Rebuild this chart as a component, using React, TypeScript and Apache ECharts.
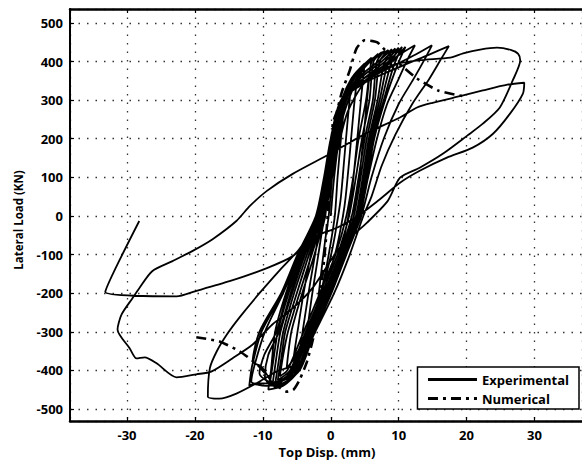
import React, { useEffect, useRef } from 'react';
import * as echarts from 'echarts';

// Experimental hysteresis (Top Disp. mm, Lateral Load kN) in load order
const cyclesSmall: number[][] = [
  [0, 0], [0.5, 100], [1.2, 200], [2, 290],
  [1.5, 200], [1, 100], [0.6, 0], [-0.3, -100], [-1.2, -180], [-2, -240],
  [-1.5, -160], [-0.8, -60], [-0.3, 0], [0.3, 120], [1, 220], [2, 300], [3, 340],
  [2.5, 250], [2, 150], [1.5, 50], [1.1, 0], [0.3, -80], [-0.8, -160], [-2.2, -240], [-3.5, -300],
  [-2.8, -210], [-2, -120], [-1.2, -30], [-0.8, 0], [-0.1, 120], [0.6, 230], [1.8, 310], [3, 355], [4, 375],
  [3.4, 280], [2.8, 160], [2.2, 50], [1.8, 0], [0.9, -80], [-0.6, -170], [-2.3, -250], [-3.5, -300], [-4.5, -340],
  [-3.8, -260], [-3, -170], [-1.9, -60], [-1.2, 0], [-0.4, 110], [0.4, 220], [1.6, 300], [3.2, 360], [5, 395],
  [4.5, 310], [3.8, 180], [3.1, 60], [2.6, 0], [1.6, -80], [0, -170], [-2, -260], [-3.8, -320], [-5.5, -370],
  [-4.9, -300], [-4, -200], [-2.8, -90], [-1.5, 0], [-0.6, 100], [0.3, 210], [1.4, 290], [3, 350], [4.8, 390], [6, 410],
  [5.5, 330], [4.8, 200], [4, 70], [3.4, 0], [2.3, -80], [0.6, -170], [-1.5, -260], [-3.8, -330], [-6.5, -395],
];

const cyclesMid: number[][] = [
  [-5.8, -300], [-4.2, -200], [-2.4, -100], [-0.9, 0], [0.2, 100], [1, 200], [2.6, 300], [4.8, 380], [7, 420],
  [6, 400], [5.2, 300], [4.1, 200], [3.3, 100], [2.3, 0], [0.7, -100], [-1.6, -200], [-4, -300], [-6.4, -400], [-7.5, -415],
  [-7, -360], [-6.3, -300], [-4.6, -200], [-2.8, -100], [-1.1, 0], [0, 100], [0.8, 200], [2.3, 300], [4.6, 380], [7.5, 424],
  [6.3, 400], [5.7, 300], [4.6, 200], [3.7, 100], [2.7, 0], [1, -100], [-1.3, -200], [-3.7, -300], [-6, -400], [-7.8, -425],
  [-7.3, -370], [-6.7, -300], [-5, -200], [-3.2, -100], [-1.3, 0], [-0.2, 100], [0.6, 200], [2.1, 300], [4.5, 385], [8, 428],
  [6.8, 400], [6.2, 300], [5, 200], [4.1, 100], [3.1, 0], [1.3, -100], [-1, -200], [-3.5, -300], [-5.8, -400], [-8.3, -447],
  [-7.7, -380], [-7, -300], [-5.4, -200], [-3.5, -100], [-1.5, 0], [-0.4, 100], [0.5, 200], [1.9, 300], [4.4, 380], [8.5, 430],
  [7.2, 400], [6.5, 300], [5.3, 200], [4.4, 100], [3.4, 0], [1.5, -100], [-0.8, -200], [-3.3, -300], [-5.6, -400], [-8.6, -440],
  [-8.2, -390], [-7.4, -300], [-5.7, -200], [-3.8, -100], [-1.6, 0], [-0.5, 100], [0.4, 200], [1.8, 300], [4.5, 365], [7, 400], [9, 432],
  [7.8, 390], [6.9, 300], [5.6, 200], [4.7, 100], [3.7, 0], [1.7, -100], [-0.6, -200], [-3.1, -300], [-5.3, -400], [-7.5, -440], [-9, -437], [-9.7, -416],
  [-9.2, -360], [-7.6, -300], [-5.9, -200], [-4, -100], [-1.7, 0], [-0.6, 100], [0.3, 200], [1.7, 300], [4.6, 360], [7.5, 400], [9.5, 434],
  [8.3, 390], [7.2, 300], [5.8, 200], [4.9, 100], [3.9, 0], [1.9, -100], [-0.4, -200], [-2.9, -300], [-5.1, -400], [-9, -437],
  [-8.5, -380], [-7.8, -300], [-6.2, -200], [-4.2, -100], [-1.8, 0], [-0.7, 100], [0.2, 200], [1.6, 300], [4.8, 355], [8, 400], [10, 436],
  [8.8, 390], [7.5, 300], [6, 200], [5.1, 100], [4.1, 0], [2, -100], [-0.2, -200], [-2.7, -300], [-4.9, -400], [-7.5, -440], [-10.5, -408],
  [-9.8, -360], [-8, -300], [-6.4, -200], [-4.4, -100], [-1.9, 0], [-0.8, 100], [0.1, 200], [1.5, 300], [5, 350], [8.5, 400], [10.5, 438],
  [9.3, 390], [7.8, 300], [6.2, 200], [5.3, 100], [4.2, 0], [2.1, -100], [-0.1, -200], [-2.6, -300], [-4.7, -400], [-7, -440], [-9.2, -450],
  [-8.8, -400], [-8.2, -300], [-6.6, -200], [-4.5, -100], [-2, 0], [-0.8, 100], [0, 200], [1.5, 300], [5, 345], [9, 400], [11, 438],
  [9.8, 390], [8, 300], [6.4, 200], [5.4, 100], [4.3, 0], [2.2, -100], [0, -200], [-2.5, -300], [-4.6, -400], [-7.5, -430], [-9.5, -440], [-11.7, -429], [-11.2, -385],
  [-9.7, -300], [-7, -200], [-4.6, -100], [-2, 0], [-0.8, 100], [0, 200], [1.5, 300], [4, 345], [7.5, 385], [10.5, 422], [12.4, 442],
  [11.3, 405], [10, 355], [8.3, 290], [6.8, 200], [5.5, 100], [4.3, 0], [2.2, -100], [0, -200], [-2.6, -300], [-4.8, -400], [-7.5, -435], [-10.9, -433], [-12, -440],
  [-11.6, -390], [-10.2, -300], [-7.1, -200], [-4.8, -100], [-2.1, 0], [-0.9, 100], [0, 200], [1.6, 300], [4.5, 345], [8.5, 382], [12.5, 418], [14.9, 442],
  [13.8, 405], [12.2, 355], [10, 290], [7.8, 200], [6, 100], [4.5, 0], [2.3, -100], [0.1, -200], [-2.4, -300], [-4.6, -400], [-8, -440], [-10.2, -390], [-11.5, -377],
  [-10.5, -300], [-7.3, -200], [-4.9, -100], [-2.2, 0], [-1, 100], [0, 200], [1.7, 300], [5, 345], [10, 385], [14.5, 418], [17.4, 440],
];

const cycle18: number[][] = [
  [16.2, 405], [14.5, 355], [12, 290], [9.5, 210], [7.5, 130], [6, 50], [4.8, 0], [2.8, -100], [0.5, -200], [-2.3, -300],
  [-4.6, -380], [-8, -403], [-10.5, -429], [-13.9, -460], [-16.4, -473], [-18.1, -468],
  [-17.8, -394], [-16.8, -351], [-15.3, -307], [-13.4, -262], [-10.5, -200], [-7.5, -140], [-4.6, -85], [-2, -15],
  [-0.3, 60], [1, 170], [2.5, 270], [5, 345], [9, 390], [13, 403], [17.6, 410], [19.5, 421], [22, 431], [24.5, 436],
  [26.5, 430], [27.6, 420], [27.9, 403],
];

const cycle27: number[][] = [
  [26.8, 351], [24.9, 281], [22.4, 239], [20.1, 208], [16.5, 161], [13.1, 125], [10.2, 99], [8.4, 39], [5.3, -18],
  [1.3, -83], [-2.7, -187], [-5.6, -239], [-8.6, -281], [-11.5, -333], [-14.5, -369], [-17.6, -403], [-19.8, -410],
  [-22.7, -418], [-25.7, -381], [-27.4, -366], [-28.6, -369], [-29.6, -343], [-31.4, -294],
  [-30.8, -255], [-29.2, -213], [-28.2, -187], [-26.3, -143], [-23.3, -117], [-20.4, -91], [-17.4, -60], [-13.9, -13],
  [-11.9, 26], [-9.4, 65], [-5.6, 109], [-0.1, 161], [5, 212], [10.2, 255], [12.7, 281], [15, 293], [19.5, 312],
  [22.4, 325], [26, 340], [28.5, 345],
];

const finalBranch: number[][] = [
  [28.3, 317], [26.4, 265], [23.9, 213], [20.9, 177], [17.1, 151], [13.1, 117], [10.2, 86], [7, 40], [4, 0], [1, -30],
  [-2.1, -52], [-5.6, -104], [-9.4, -135], [-14.9, -169], [-20, -195], [-22.7, -208], [-33.2, -197], [-28.2, -13],
];

// Numerical (dash-dot) curve
const numerical: number[][] = [
  [-19.8, -314], [-16.4, -325], [-13.4, -351], [-10.8, -385], [-9, -420], [-7.5, -445], [-6.5, -455], [-5.5, -450],
  [-4.6, -425], [-3.5, -377], [-2.5, -310], [-1.5, -200], [-0.8, -80], [-0.3, 40], [0.1, 150], [0.3, 240], [0.9, 270],
  [1.6, 319], [2.8, 377], [3.8, 434], [5, 455], [6.8, 450], [8.3, 424], [10.5, 388], [12.7, 356], [15.8, 325], [19, 312], [19.8, 310],
];

const seriesNames = ['Experimental', 'Numerical'];
const xName = 'Top Disp. (mm)';
const yName = 'Lateral Load (KN)';
const xRange = [-38.4, 37];
const yRange = [-531, 536];

export default function App() {
  const ref = useRef<HTMLDivElement>(null);
  useEffect(() => {
    const chart = echarts.init(ref.current!, null, { renderer: 'svg' });
    const experimental = [...cyclesSmall, ...cyclesMid, ...cycle18, ...cycle27, ...finalBranch];
    const axisText = { fontWeight: 'bold', fontSize: 13, color: '#000', fontFamily: 'Open Sans', lineHeight: 14 };
    const split = { show: true, lineStyle: { type: [1.5, 7], color: '#333', width: 1.3 } };
    chart.setOption({
      animation: false,
      backgroundColor: '#fff',
      textStyle: { fontFamily: 'Open Sans' },
      grid: { left: 70, right: 0, top: 9, bottom: 45 },
      graphic: [
        {
          type: 'text', x: 327, y: 452, z: 10,
          style: { text: xName, fontWeight: 'bold', fontSize: 13, fontFamily: 'Open Sans', fill: '#000', align: 'center', verticalAlign: 'middle', lineHeight: 14 },
        },
        {
          type: 'text', x: 18, y: 220, rotation: Math.PI / 2, z: 10,
          style: { text: yName, fontWeight: 'bold', fontSize: 11.5, fontFamily: 'Open Sans', fill: '#000', align: 'center', verticalAlign: 'middle' },
        },
      ],
      legend: {
        data: [
          { name: seriesNames[0], lineStyle: { width: 3 }, itemStyle: { opacity: 0 } },
          { name: seriesNames[1], lineStyle: { width: 3 }, itemStyle: { opacity: 0 } },
        ],
        orient: 'vertical',
        right: 3,
        top: 367,
        itemWidth: 49,
        itemHeight: 12,
        itemGap: 6,
        padding: [6, 10, 4, 9],
        borderColor: '#000',
        borderWidth: 1.5,
        backgroundColor: '#fff',
        textStyle: { fontWeight: 'bold', fontSize: 13, color: '#000', fontFamily: 'Open Sans' },
      },
      xAxis: [
        {
          type: 'value', min: xRange[0], max: xRange[1], splitNumber: 7,
          axisLine: { onZero: false, lineStyle: { color: '#000', width: 2.5 } },
          axisTick: { inside: true, length: 4, lineStyle: { color: '#000', width: 1.2 } },
          axisLabel: { ...axisText, margin: 7, showMinLabel: false, showMaxLabel: false },
          splitLine: split,
        },
        {
          type: 'value', position: 'top', min: xRange[0], max: xRange[1], splitNumber: 7,
          axisLine: { onZero: false, lineStyle: { color: '#000', width: 2.5 } },
          axisTick: { inside: true, length: 4, lineStyle: { color: '#000', width: 1.2 } },
          axisLabel: { show: false },
          splitLine: { show: false },
        },
      ],
      yAxis: {
        type: 'value', min: yRange[0], max: yRange[1], splitNumber: 10,
        axisLine: { show: true, onZero: false, lineStyle: { color: '#000', width: 2 } },
        axisTick: { show: true, inside: true, length: 4, lineStyle: { color: '#000', width: 1.2 } },
        axisLabel: { ...axisText, margin: 7, showMinLabel: false, showMaxLabel: false },
        splitLine: split,
      },
      series: [
        {
          name: seriesNames[0], type: 'line', data: experimental, showSymbol: false, symbol: 'none',
          smooth: 0.25, lineStyle: { color: '#000', width: 1.8 }, itemStyle: { color: '#000' },
        },
        {
          name: seriesNames[1], type: 'line', data: numerical, showSymbol: false, symbol: 'none',
          smooth: 0.2, lineStyle: { color: '#000', width: 2.6, type: [10, 5, 3, 5] }, itemStyle: { color: '#000' },
        },
      ],
    });
    return () => chart.dispose();
  }, []);
  return <div ref={ref} style={{ position: 'fixed', left: 0, top: 0, width: 582, height: 466 }} />;
}
